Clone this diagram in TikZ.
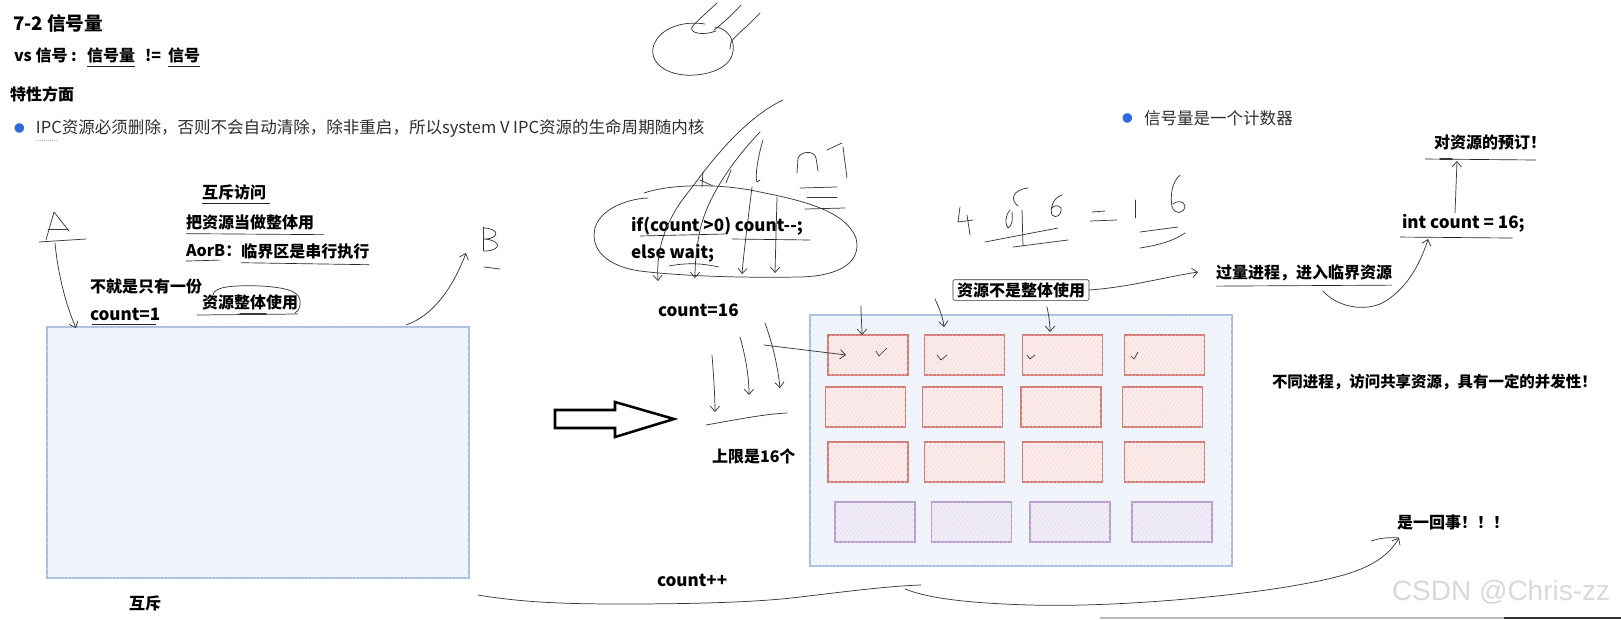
\documentclass[tikz,border=0pt]{standalone}
\usepackage{fontspec}
\setmainfont{Noto Sans CJK SC}
\newfontfamily\wmfont{Liberation Sans}
\usetikzlibrary{arrows.meta,patterns.meta,calc}
\definecolor{bbline}{HTML}{A9BEDF}
\definecolor{bbfill}{HTML}{F3F7FD}
\definecolor{bbhatch}{HTML}{DFE8F6}
\definecolor{rline}{HTML}{D47A74}
\definecolor{rfill}{HTML}{FBECEB}
\definecolor{rhatch}{HTML}{F2D3D0}
\definecolor{pline}{HTML}{B99BCF}
\definecolor{pfill}{HTML}{F1EDF8}
\definecolor{phatch}{HTML}{DFD6EF}
\definecolor{bulletc}{HTML}{2F6BE0}
\begin{document}
\begin{tikzpicture}[x=0.75pt,y=-0.75pt,
  every node/.style={inner sep=0pt,outer sep=0pt,anchor=west},
  bl/.style={font=\bfseries\fontsize{12}{14}\selectfont},
  cd/.style={font=\bfseries\fontsize{12.8}{15}\selectfont},
  rg/.style={font=\fontsize{12.4}{14}\selectfont,text=black!82},
  ul/.style={draw=black!85,line width=0.5pt},
  pen/.style={draw=black!78,line width=0.55pt,line cap=round,line join=round},
  tipp/.style={-{Straight Barb[length=4pt,width=7pt]}},
  bigbox/.style={draw=bbline,line width=1pt,fill=bbfill,anchor=center,
    minimum width=316.5pt,minimum height=188.25pt,
    postaction={pattern={Lines[angle=60,distance=2.4pt,line width=0.25pt]},pattern color=bbhatch}},
  rcell/.style={draw=rline,line width=1.1pt,fill=rfill,anchor=center,
    minimum width=60pt,minimum height=30pt,
    postaction={pattern={Lines[angle=55,distance=2.4pt,line width=0.25pt]},pattern color=rhatch}},
  pcell/.style={draw=pline,line width=1.1pt,fill=pfill,anchor=center,
    minimum width=60pt,minimum height=30pt,
    postaction={pattern={Lines[angle=55,distance=2.4pt,line width=0.25pt]},pattern color=phatch}},
  chk/.style={draw=black!80,line width=0.5pt,line join=round}
]
\useasboundingbox (0,0) rectangle (1621,619);
\fill[white] (0,0) rectangle (1621,619);

% ---------- header texts ----------
\node[font=\bfseries\fontsize{14}{16}\selectfont] (title) at (13,23) {7-2 信号量};
\node[bl] (vs1) at (14,55) {vs 信号 :};
\node[bl] (vs2) at (87,55) {信号量};
\node[bl] (vs3) at (145,55) {!=};
\node[bl] (vs4) at (168,55) {信号};
\draw[ul] ($(vs2.south west)+(0,4)$) -- ($(vs2.south east)+(0,4)$);
\draw[ul] ($(vs4.south west)+(0,4)$) -- ($(vs4.south east)+(0,4)$);
\node[bl] (tx) at (10,94) {特性方面};
\node[text=bulletc,font=\fontsize{8}{10}\selectfont] (b1) at (14,128) {●};
\node[rg] (ipc) at (36,128) {IPC资源必须删除，否则不会自动清除，除非重启，所以system V IPC资源的生命周期随内核};
\draw[gray!60,densely dotted,line width=0.5pt] ($(ipc.south west)+(0,3)$) -- ++(22,0);
\node[text=bulletc,font=\fontsize{8}{10}\selectfont] (b2) at (1122,118) {●};
\node[rg] (xh) at (1144,118) {信号量是一个计数器};

% ---------- left part ----------
\node[bigbox] (L) at (258,452.5) {};
\node[bl] (hc) at (129,603) {互斥};
\node[bl] (hcfw) at (202,192) {互斥访问};
\draw[ul] ($(hcfw.south west)+(0,4)$) -- ($(hcfw.south east)+(4,4)$);
\node[bl] (zt) at (186,222) {把资源当做整体用};
\draw[ul] ($(zt.south west)+(0,4)$) -- ($(zt.south east)+(10,5)$);
\node[bl] (ab1) at (186,251) {AorB：};
\node[bl,anchor=west] (ab2) at (ab1.east) {临界区是串行执行};
\draw[ul] ($(ab1.south west)+(0,4)$) -- ($(ab1.south west)+(34,3)$);
\draw[ul] ($(ab2.south west)+(0,4)$) -- ($(ab2.south east)+(0,6)$);
\node[bl] (bj) at (90,286) {不就是只有一份};
\node[cd] (c1) at (90,314) {count=1};
\draw[ul] ($(c1.south west)+(2,4)$) -- ($(c1.south east)+(-4,4)$);
\node[bl] (zy) at (202,302) {资源整体使用};
\draw[pen] (213,295) .. controls (214,287) and (230,285) .. (262,286) .. controls (290,288) and (302,292) .. (300,305) .. controls (299,310) and (297,312) .. (295,313);
\draw[pen] (197,315) -- (298,314);
\draw[pen,line width=1.2pt] (240,314) -- (266,314);

% A and its arrow
\draw[pen] (46,240) -- (54,212) -- (69,231);
\draw[pen] (48,229) -- (68,229);
\draw[pen] (39,242) -- (86,239);
\coordinate (Aend) at (76,328);
\draw[pen,tipp] (55,243) .. controls (58,275) and (66,305) .. (Aend);
% B and its arrow
\draw[pen] (483,227) -- (483,251);
\draw[pen] (483,228) .. controls (500,228) and (500,239) .. (484,239) .. controls (502,240) and (502,251) .. (484,251);
\draw[pen] (484,267) -- (500,269);
\coordinate (Bend) at (466,253);
\draw[pen,tipp] (406,325) .. controls (432,316) and (452,290) .. (Bend);

% block arrow
\draw[line width=1.9pt,line join=miter] (555,410) -- (615,410) -- (615,402) -- (674,419) -- (615,437) -- (615,428) -- (555,428) -- cycle;

% ---------- top middle scribbles ----------
\draw[pen] (705,24) .. controls (680,20) and (657,30) .. (653,48) .. controls (650,66) and (672,77) .. (695,75) .. controls (722,73) and (736,60) .. (733,44) .. controls (731,34) and (724,28) .. (715,27);
\draw[pen] (717,3) .. controls (705,14) and (696,22) .. (692,27) .. controls (689,33) and (703,36) .. (716,31);
\draw[pen] (741,5) .. controls (732,15) and (722,24) .. (714,30);
\draw[pen] (760,13) .. controls (748,26) and (736,35) .. (731,42) -- (730,49);

% oval around code
\draw[pen] (644,193) .. controls (670,184) and (720,183) .. (760,192) .. controls (800,200) and (845,210) .. (856,238) .. controls (862,262) and (840,276) .. (800,277) .. controls (740,278) and (680,276) .. (640,271) .. controls (605,266) and (590,248) .. (595,228) .. controls (600,210) and (625,199) .. (648,198);
\node[cd] (if) at (631,226) {if(count >0) count-{}-;};
\node[cd] (el) at (631,253) {else wait;};
\draw[ul] (640,236) -- (725,234);
\draw[ul] (732,239) -- (810,240);
\draw[ul] (669,266) .. controls (690,262) and (705,264) .. (719,267);
% "count" handwriting
\coordinate (s1e) at (658,281);
\coordinate (s2e) at (695,278);
\coordinate (s3e) at (742,274);
\coordinate (s4e) at (775,273);
\draw[pen,tipp] (783,100) .. controls (745,118) and (712,160) .. (690,190) .. controls (665,220) and (656,250) .. (s1e);
\draw[pen,tipp] (760,132) .. controls (735,158) and (708,195) .. (700,230) .. controls (696,250) and (695,265) .. (s2e);
\draw[pen] (731,170) -- (726,183);
\draw[pen] (763,140) .. controls (757,160) and (755,178) .. (757,182) -- (760,180);
\draw[pen,tipp] (752,187) .. controls (748,220) and (744,250) .. (s3e);
\draw[pen,tipp] (777,197) -- (s4e);
\draw[pen] (703,172) -- (702,187);
\draw[pen] (700,180) -- (713,186);
\draw[pen] (797,173) -- (798,158) .. controls (801,151) and (814,150) .. (816,158) -- (818,171);
\draw[pen] (827,150) -- (842,143);
\draw[pen] (843,147) -- (847,178);
\draw[pen] (800,188) -- (837,187);
\draw[pen] (807,197) -- (837,197);
\draw[pen] (805,209) -- (845,208);

% 4*6=16
\draw[pen] (960,207) -- (958,222) -- (973,220);
\draw[pen] (967,215) -- (970,235);
\draw[pen] (1028,188) .. controls (1012,190) and (1010,200) .. (1018,206);
\draw[pen] (1010,210) .. controls (1005,215) and (1005,225) .. (1008,228) .. controls (1012,226) and (1013,220) .. (1012,212);
\draw[pen] (1022,210) -- (1023,246);
\draw[pen] (1062,195) .. controls (1052,198) and (1050,210) .. (1052,215) .. controls (1056,219) and (1062,215) .. (1061,208) .. controls (1058,204) and (1053,206) .. (1052,208);
\draw[pen] (1092,212) -- (1105,211);
\draw[pen] (1090,221) -- (1117,220);
\draw[pen] (1135,200) -- (1135,218);
\draw[pen] (1180,175) .. controls (1172,182) and (1170,195) .. (1172,207) .. controls (1175,215) and (1184,214) .. (1185,206) .. controls (1184,200) and (1176,201) .. (1173,204);
\draw[pen] (985,242) -- (1058,228);
\draw[pen] (1013,247) -- (1068,240);
\draw[pen] (1140,232) -- (1178,227);
\draw[pen] (1140,248) .. controls (1160,245) and (1175,240) .. (1185,233);

% ---------- right part ----------
\node[cd] (c16) at (658,310) {count=16};
\node[bigbox] (R) at (1021,440.5) {};
\foreach \cx [count=\i] in {868,964.5,1062.5,1164.5}{
  \node[rcell] (a\i) at (\cx,355) {};
  \node[rcell] (c\i) at (\cx,462) {};
}
\foreach \cx [count=\i] in {865.5,962.5,1061,1162.5}{
  \node[rcell] (b\i) at (\cx,407) {};
}
\foreach \cx [count=\i] in {875,971.5,1070,1172}{
  \node[pcell] (d\i) at (\cx,522) {};
}
% check marks
\draw[chk] (876,351) -- (879,356) -- (887,348);
\draw[chk] (937,355) -- (941,360) -- (947,355);
\draw[chk] (1027,355) -- (1030,359) -- (1035,355);
\draw[chk] (1131,356) -- (1134,359) -- (1138,352);
% arrows into first row
\draw[pen,tipp] (861,306) .. controls (861,318) and (862,326) .. (a1.north -| 862,0);
\draw[pen,tipp] (935,299) .. controls (940,310) and (943,318) .. (944,327);
\draw[pen,tipp] (1047,307) .. controls (1049,316) and (1050,325) .. (1050,332);
\coordinate (ina) at (846,355);
\draw[pen,tipp] (764,345) -- (ina);
% left down arrows
\draw[pen,tipp] (712,355) .. controls (714,380) and (715,400) .. (715,412);
\draw[pen,tipp] (740,337) .. controls (746,358) and (749,378) .. (749,395);
\draw[pen,tipp] (765,323) .. controls (773,345) and (778,368) .. (780,388);
\draw[pen] (706,425) .. controls (740,419) and (765,414) .. (787,413);
\node[bl] (sx) at (712,456) {上限是16个};

% 资源不是整体使用 box and chain
\node[bl,draw=black!80,line width=0.5pt,inner xsep=3pt,inner ysep=2pt,rounded corners=1pt] (bz) at (953,290) {资源不是整体使用};
\node[bl] (gl) at (1216,273) {过量进程，进入临界资源};
\draw[ul] ($(gl.south west)+(0,5)$) -- ($(gl.south east)+(0,4)$);
\draw[pen,tipp] (bz.east) .. controls (1130,287) and (1160,278) .. ($(gl.west)+(-18,-1)$);
\node[cd] (ic) at (1402,223) {int count = 16;};
\draw[ul] ($(ic.south west)+(-2,5)$) -- ($(ic.south east)+(-12,6)$);
\coordinate (icb) at (1428,239);
\draw[pen,tipp] (1323,291) .. controls (1335,305) and (1360,312) .. (1380,304) .. controls (1405,292) and (1420,265) .. (icb);
\node[bl] (yd) at (1434,142) {对资源的预订！};
\draw[ul] (1425,159) -- (1536,160);
\draw[pen,line width=1.1pt] (1440,159) -- (1452,159);
\draw[pen,tipp] (1455,213) -- (1457,161);
\node[bl,font=\bfseries\fontsize{11.6}{14}\selectfont] (bt) at (1272,382) {不同进程，访问共享资源，具有一定的并发性！};
\node[bl] (sy) at (1397,522) {是一回事！！！};

% bottom
\node[cd] (cpp) at (657,580) {count++};
\draw[pen] (478,595) .. controls (520,602) and (560,604) .. (620,604) .. controls (700,604) and (760,602) .. (800,597) .. controls (850,591) and (890,586) .. (921,585);
\coordinate (syb) at (1399,538);
\draw[pen,tipp] (905,589) .. controls (925,597) and (960,603) .. (1030,605) .. controls (1100,607) and (1200,600) .. (1280,588) .. controls (1340,578) and (1380,570) .. (syb);
\draw[pen] (1371,541) .. controls (1380,538) and (1390,537) .. (1399,538);

% watermark and bottom edge
\node[font=\wmfont\fontsize{21}{24}\selectfont,text=gray!30] (wm) at (1392,592) {CSDN @Chris-zz};
\draw[gray!55,line width=0.8pt] (1100,618) -- (1621,618);
\draw[black!80,line width=0.8pt] (1504,618) -- (1621,618);
\end{tikzpicture}
\end{document}
